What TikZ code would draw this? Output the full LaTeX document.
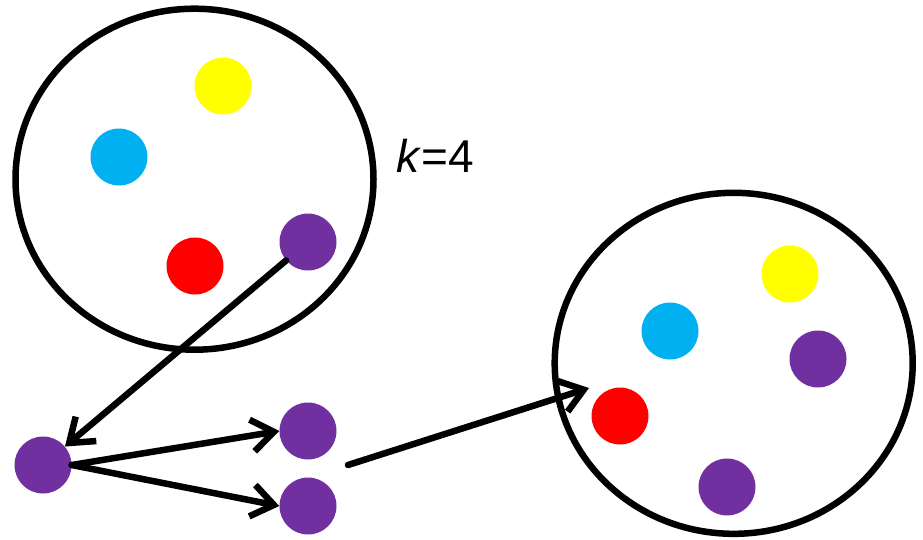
\documentclass[tikz,border=0pt]{standalone}
\usepackage{fontspec}
\setmainfont{Liberation Sans}
\usetikzlibrary{shapes.geometric,arrows.meta}
\definecolor{dotyellow}{HTML}{FFFF00}
\definecolor{dotblue}{HTML}{00B0F0}
\definecolor{dotred}{HTML}{FF0000}
\definecolor{dotpurple}{HTML}{7030A0}
\tikzset{
  cluster/.style={draw=black,line width=6.5pt,ellipse,minimum width=358pt,minimum height=341pt,inner sep=0pt},
  dot/.style={circle,fill=#1,minimum size=57pt,inner sep=0pt,draw=none},
  conn/.style={line width=6.5pt,line cap=round,-{Straight Barb[length=22pt,width=32pt,line width=6.5pt]}}
}
\begin{document}
\begin{tikzpicture}[x=1pt,y=-1pt]
\useasboundingbox (0,0) rectangle (923,539);
% left cluster
\node[cluster] (L) at (194.5,179.2) {};
\node[dot=dotyellow] (ly) at (223,86) {};
\node[dot=dotblue] (lb) at (119,157) {};
\node[dot=dotred] (lr) at (195,266) {};
\node[dot=dotpurple] (lp) at (308,242) {};
\node[anchor=base west,inner sep=0pt,font=\fontsize{46}{46}\selectfont] (k) at (396,172) {\textit{k}=4};
% free dots
\node[dot=dotpurple] (q0) at (43,465) {};
\node[dot=dotpurple] (q1) at (308,431) {};
\node[dot=dotpurple] (q2) at (308,506) {};
% right cluster
\node[cluster] (R) at (733.7,363.3) {};
\node[dot=dotyellow] (ry) at (790,274) {};
\node[dot=dotblue] (rb) at (670,331) {};
\node[dot=dotpurple] (rp) at (818,359) {};
\node[dot=dotred] (rr) at (620,416) {};
\node[dot=dotpurple] (rq) at (727,487) {};
% connectors
\draw[conn] (lp) -- (q0);
\draw[conn] (q0.east) -- (q1.west);
\draw[conn] (q0.east) -- (q2.west);
\coordinate (a) at (348,465);
\coordinate (b) at (589,388);
\draw[conn] (a) -- (b);
\end{tikzpicture}
\end{document}
